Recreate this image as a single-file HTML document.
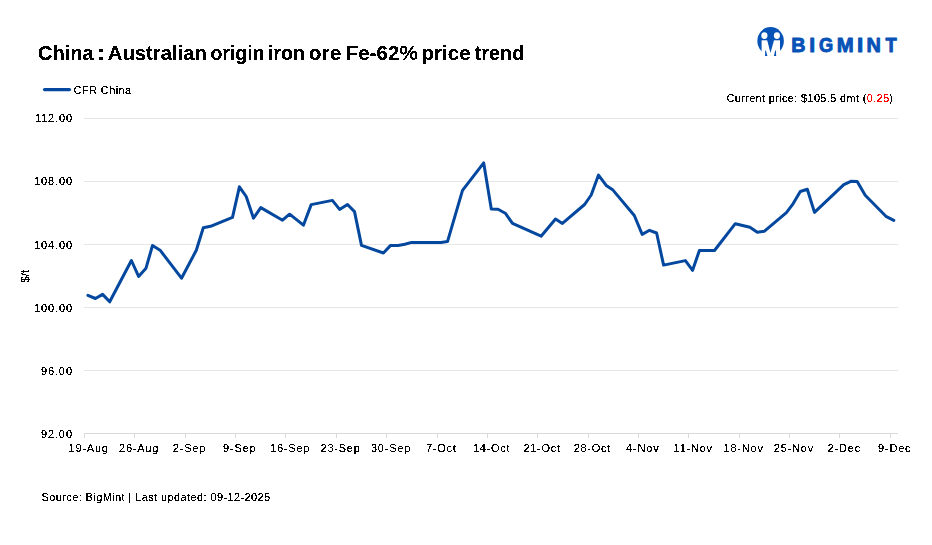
<!DOCTYPE html>
<html><head><meta charset="utf-8"><title>China : Australian origin iron ore Fe-62% price trend</title>
<style>
html,body{margin:0;padding:0;background:#fff;}
body{width:932px;height:545px;overflow:hidden;}
svg{display:block;}
text{font-family:"Liberation Sans",Arial,sans-serif;fill:#000;}
.lbl{font-size:11px;}
.lbl,.leg,.cp,.src,.ytitle,.title{filter:url(#crisp);}
.leg{font-size:11px;}
.cp{font-size:11px;}
.src{font-size:11px;}
.ytitle{font-size:11.5px;}
.title{font-size:19.6px;font-weight:bold;}
.logo{font-size:20.2px;font-weight:bold;fill:#0652b6;stroke:#0652b6;stroke-width:0.9px;stroke-linejoin:round;}
</style></head>
<body>
<svg width="932" height="545" viewBox="0 0 932 545">
<rect width="932" height="545" fill="#fff"/>
<defs><filter id="crisp" x="-5%" y="-30%" width="110%" height="160%"><feComponentTransfer><feFuncA type="discrete" tableValues="0 0 0 0 0 0 0 0 1 1 1 1 1 1 1 1 1 1 1 1"/></feComponentTransfer></filter></defs>
<line x1="84" x2="898" y1="118.5" y2="118.5" stroke="#e6e6e6" stroke-width="1"/>
<line x1="84" x2="898" y1="181.5" y2="181.5" stroke="#e6e6e6" stroke-width="1"/>
<line x1="84" x2="898" y1="244.5" y2="244.5" stroke="#e6e6e6" stroke-width="1"/>
<line x1="84" x2="898" y1="307.5" y2="307.5" stroke="#e6e6e6" stroke-width="1"/>
<line x1="84" x2="898" y1="370.5" y2="370.5" stroke="#e6e6e6" stroke-width="1"/>
<line x1="84" x2="898" y1="433.5" y2="433.5" stroke="#d9d9d9" stroke-width="1"/>
<line x1="84.5" x2="84.5" y1="433" y2="438" stroke="#d9d9d9" stroke-width="1"/>
<line x1="134.5" x2="134.5" y1="433" y2="438" stroke="#d9d9d9" stroke-width="1"/>
<line x1="185.5" x2="185.5" y1="433" y2="438" stroke="#d9d9d9" stroke-width="1"/>
<line x1="235.5" x2="235.5" y1="433" y2="438" stroke="#d9d9d9" stroke-width="1"/>
<line x1="285.5" x2="285.5" y1="433" y2="438" stroke="#d9d9d9" stroke-width="1"/>
<line x1="336.5" x2="336.5" y1="433" y2="438" stroke="#d9d9d9" stroke-width="1"/>
<line x1="386.5" x2="386.5" y1="433" y2="438" stroke="#d9d9d9" stroke-width="1"/>
<line x1="437.5" x2="437.5" y1="433" y2="438" stroke="#d9d9d9" stroke-width="1"/>
<line x1="487.5" x2="487.5" y1="433" y2="438" stroke="#d9d9d9" stroke-width="1"/>
<line x1="537.5" x2="537.5" y1="433" y2="438" stroke="#d9d9d9" stroke-width="1"/>
<line x1="588.5" x2="588.5" y1="433" y2="438" stroke="#d9d9d9" stroke-width="1"/>
<line x1="638.5" x2="638.5" y1="433" y2="438" stroke="#d9d9d9" stroke-width="1"/>
<line x1="688.5" x2="688.5" y1="433" y2="438" stroke="#d9d9d9" stroke-width="1"/>
<line x1="739.5" x2="739.5" y1="433" y2="438" stroke="#d9d9d9" stroke-width="1"/>
<line x1="789.5" x2="789.5" y1="433" y2="438" stroke="#d9d9d9" stroke-width="1"/>
<line x1="839.5" x2="839.5" y1="433" y2="438" stroke="#d9d9d9" stroke-width="1"/>
<line x1="890.5" x2="890.5" y1="433" y2="438" stroke="#d9d9d9" stroke-width="1"/>
<text x="72" y="121.5" text-anchor="end" class="lbl" textLength="37.10" lengthAdjust="spacing">112.00</text>
<text x="72" y="184.5" text-anchor="end" class="lbl" textLength="38.02" lengthAdjust="spacing">108.00</text>
<text x="72" y="248.5" text-anchor="end" class="lbl" textLength="38.02" lengthAdjust="spacing">104.00</text>
<text x="72" y="311.5" text-anchor="end" class="lbl" textLength="38.02" lengthAdjust="spacing">100.00</text>
<text x="72" y="374.5" text-anchor="end" class="lbl" textLength="31.11" lengthAdjust="spacing">96.00</text>
<text x="72" y="437.5" text-anchor="end" class="lbl" textLength="31.11" lengthAdjust="spacing">92.00</text>
<text x="88.3" y="451.8" text-anchor="middle" class="lbl" textLength="39.37" lengthAdjust="spacing">19-Aug</text>
<text x="138.7" y="451.8" text-anchor="middle" class="lbl" textLength="39.37" lengthAdjust="spacing">26-Aug</text>
<text x="189.1" y="451.8" text-anchor="middle" class="lbl" textLength="32.58" lengthAdjust="spacing">2-Sep</text>
<text x="239.4" y="451.8" text-anchor="middle" class="lbl" textLength="32.58" lengthAdjust="spacing">9-Sep</text>
<text x="289.8" y="451.8" text-anchor="middle" class="lbl" textLength="39.37" lengthAdjust="spacing">16-Sep</text>
<text x="340.2" y="451.8" text-anchor="middle" class="lbl" textLength="39.37" lengthAdjust="spacing">23-Sep</text>
<text x="390.6" y="451.8" text-anchor="middle" class="lbl" textLength="39.37" lengthAdjust="spacing">30-Sep</text>
<text x="440.9" y="451.8" text-anchor="middle" class="lbl" textLength="29.85" lengthAdjust="spacing">7-Oct</text>
<text x="491.3" y="451.8" text-anchor="middle" class="lbl" textLength="36.64" lengthAdjust="spacing">14-Oct</text>
<text x="541.7" y="451.8" text-anchor="middle" class="lbl" textLength="36.64" lengthAdjust="spacing">21-Oct</text>
<text x="592.0" y="451.8" text-anchor="middle" class="lbl" textLength="36.64" lengthAdjust="spacing">28-Oct</text>
<text x="642.4" y="451.8" text-anchor="middle" class="lbl" textLength="32.57" lengthAdjust="spacing">4-Nov</text>
<text x="692.8" y="451.8" text-anchor="middle" class="lbl" textLength="38.46" lengthAdjust="spacing">11-Nov</text>
<text x="743.2" y="451.8" text-anchor="middle" class="lbl" textLength="39.36" lengthAdjust="spacing">18-Nov</text>
<text x="793.5" y="451.8" text-anchor="middle" class="lbl" textLength="39.36" lengthAdjust="spacing">25-Nov</text>
<text x="843.9" y="451.8" text-anchor="middle" class="lbl" textLength="32.57" lengthAdjust="spacing">2-Dec</text>
<text x="894.3" y="451.8" text-anchor="middle" class="lbl" textLength="32.57" lengthAdjust="spacing">9-Dec</text>
<g transform="translate(28.8,0) rotate(-90)"><text x="-282.70" y="0" class="ytitle" textLength="12.89" lengthAdjust="spacingAndGlyphs">$/t</text></g>
<path d="M87.9 295.3 L95.4 298.5 L102.6 294.4 L109.7 301.8 L131.4 260.5 L138.6 276.4 L146.0 268.2 L152.5 245.5 L160.1 250.2 L181.5 278.2 L196.3 250.3 L203.3 227.7 L210.5 226.3 L232.5 217.4 L239.4 186.8 L246.2 196.5 L253.5 218.2 L260.8 207.6 L282.5 220.2 L289.6 214.2 L303.4 225.2 L311.2 204.6 L332.4 200.4 L339.6 209.4 L347.5 204.5 L354.5 211.6 L361.5 245.4 L383.4 253.0 L390.6 245.4 L398.0 245.4 L404.9 244.2 L411.6 242.4 L441.0 242.5 L447.5 241.6 L462.5 190.4 L483.7 162.9 L491.3 209.1 L498.0 209.3 L505.3 213.2 L512.5 223.4 L541.1 236.2 L555.5 219.0 L562.4 223.4 L584.6 204.5 L591.2 195.0 L598.5 175.1 L606.2 185.4 L613.0 190.1 L634.3 215.5 L642.2 234.4 L649.5 230.3 L656.6 233.0 L663.6 265.1 L685.4 260.6 L692.6 270.3 L699.4 250.5 L714.5 250.5 L735.3 223.7 L749.9 227.2 L757.3 232.2 L764.5 231.2 L786.4 212.6 L793.2 203.6 L800.3 191.5 L807.3 189.3 L814.5 212.4 L843.8 184.6 L850.9 181.3 L857.2 181.5 L865.2 195.3 L885.9 216.3 L893.8 220.4" fill="none" stroke="#03489e" stroke-width="3" stroke-linejoin="round" stroke-linecap="round"/>
<line x1="44.5" x2="69.5" y1="89.6" y2="89.6" stroke="#03489e" stroke-width="3.2" stroke-linecap="round"/>
<text x="73.6" y="93.7" class="leg" textLength="57.5" lengthAdjust="spacing">CFR China</text>
<text x="37.98" y="59.6" class="title" textLength="55.66" lengthAdjust="spacingAndGlyphs">China</text>
<text x="96.52" y="59.6" class="title" textLength="8.86" lengthAdjust="spacingAndGlyphs">:</text>
<text x="107.88" y="59.6" class="title" textLength="98.90" lengthAdjust="spacingAndGlyphs">Australian</text>
<text x="210.41" y="59.6" class="title" textLength="54.02" lengthAdjust="spacingAndGlyphs">origin</text>
<text x="267.79" y="59.6" class="title" textLength="37.34" lengthAdjust="spacingAndGlyphs">iron</text>
<text x="308.85" y="59.6" class="title" textLength="32.50" lengthAdjust="spacingAndGlyphs">ore</text>
<text x="345.73" y="59.6" class="title" textLength="72.12" lengthAdjust="spacingAndGlyphs">Fe-62%</text>
<text x="421.43" y="59.6" class="title" textLength="49.35" lengthAdjust="spacingAndGlyphs">price</text>
<text x="474.50" y="59.6" class="title" textLength="49.82" lengthAdjust="spacingAndGlyphs">trend</text>
<text x="893" y="102" text-anchor="end" class="cp" textLength="166.5" lengthAdjust="spacing">Current price: $105.5 dmt (<tspan fill="#ff0000">0.25</tspan>)</text>
<text x="41.5" y="501.3" class="src" textLength="228.7" lengthAdjust="spacing">Source: BigMint | Last updated: 09-12-2025</text>

<defs><mask id="lm" maskUnits="userSpaceOnUse" x="750" y="20" width="40" height="45"><rect x="750" y="20" width="40" height="45" fill="#fff"/><rect x="761.6" y="40.3" width="18.4" height="20" fill="#000"/></mask></defs>
<ellipse cx="770.6" cy="40.9" rx="13.25" ry="13.8" fill="#0652b6" mask="url(#lm)"/>
<ellipse cx="764.4" cy="35.6" rx="3.1" ry="3.4" fill="#fff"/>
<ellipse cx="776.9" cy="35.6" rx="3.05" ry="3.4" fill="#fff"/>
<polygon points="767.02,39.6 774.19,39.6 770.5,53.1" fill="#0652b6"/>
<polygon points="765.2,50.4 765.9,50.4 767.4,56.0 765.1,56.0" fill="#0652b6"/>
<polygon points="775.2,50.4 775.9,50.4 776.2,56.0 773.9,56.0" fill="#0652b6"/>
<text class="logo" transform="translate(791.32,51.75) scale(0.976,1)">B</text>
<text class="logo" transform="translate(809.23,51.75) scale(1.042,1)">I</text>
<text class="logo" transform="translate(818.90,51.75) scale(0.904,1)">G</text>
<text class="logo" transform="translate(836.77,51.75) scale(1.007,1)">M</text>
<text class="logo" transform="translate(856.93,51.75) scale(1.112,1)">I</text>
<text class="logo" transform="translate(866.50,51.75) scale(0.987,1)">N</text>
<text class="logo" transform="translate(885.53,51.75) scale(0.911,1)">T</text>

</svg>
</body></html>
